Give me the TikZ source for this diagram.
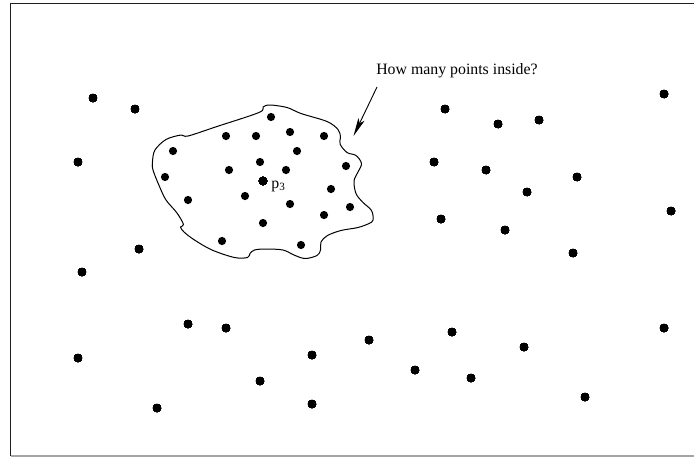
\documentclass[tikz,border=0pt]{standalone}
\usepackage{fontspec}
\setmainfont{Liberation Serif}
\usepackage{xcolor}
\usetikzlibrary{arrows.meta}
\definecolor{inkBlack}{RGB}{0,0,0}
\definecolor{frameDark}{RGB}{30,30,30}
\definecolor{frameGray}{RGB}{165,165,165}
\newcommand{\PtDot}[2]{\fill[inkBlack] (#1,#2) circle[radius=4.1];}

\begin{document}
\begin{tikzpicture}[x=0.6pt,y=-0.6pt,line join=round,
  blobLine/.style={draw=inkBlack,line width=0.6pt},
  pointer/.style={-{Stealth[length=11pt,width=4pt,inset=2.5pt]},line width=0.55pt},
  tagText/.style={font=\fontsize{9.5}{11}\selectfont,inner sep=0pt}]
\useasboundingbox (0,0) rectangle (694,457);
\draw[frameDark,line width=0.85pt] (694,3.5) -- (10.5,3.5) -- (10.5,456);
\draw[frameGray,line width=0.7pt] (10.5,456) -- (694,456);
\draw[blobLine] plot[smooth cycle,tension=0.55] coordinates {
  (263,107) (270,105) (287,107.5) (301,113.5) (327,121.5) (338,129.5) (340.5,137)
  (340,144) (347,152.5) (356,155.5) (361.5,163.5) (358,172) (354,181) (356,193.5)
  (362.5,202) (371.5,210.5) (373,220) (369,223.5) (358,227.5) (341,230.5) (327.5,235.5)
  (321,242) (320.5,250) (317,255.5) (305,258.5) (294,255) (283,250) (265.5,249)
  (254.5,250) (250,253.5) (247.5,257.5) (234.5,257.5) (212,250) (194.5,240)
  (184,232) (180.5,227) (183.5,224.5) (177,213) (166,200) (159.5,186.5) (153,170)
  (152.5,161.5) (155,150) (166,139.5) (181,135) (188,136) (217,126.5) (259,112.5)};
\foreach \px/\py in {271/117,226/136,256/136,290/132,324/136,173/151,297/151,
  260/162,229/170,286/170,346/166,165/177,331/189,245/196,188/200,290/204,
  350/207,324/215,263/223,222/241,301/245}
  \PtDot{\px}{\py}
\foreach \px/\py in {93/98,135/109,78/162,139/249,82/272,445/109,498/124,539/120,
  664/94,434/162,486/170,577/177,527/192,671/211,441/219,505/230,573/253,188/324,
  226/328,78/358,312/355,369/340,452/332,524/347,664/328,415/370,471/378,260/381,
  157/408,312/404,585/397}
  \PtDot{\px}{\py}
\node[circle,fill=inkBlack,inner sep=0pt,minimum size=4.9pt] (pThree) at (263,181) {};
\node[tagText,anchor=base west] (pThreeTag) at (271,188) {p\textsubscript{3}};
\node[tagText] (question) at (457,70.5) {How many points inside?};
\coordinate (arrowTail) at (377,87);
\coordinate (arrowTip) at (353.5,136);
\draw[pointer] (arrowTail) -- (arrowTip);
\end{tikzpicture}
\end{document}
